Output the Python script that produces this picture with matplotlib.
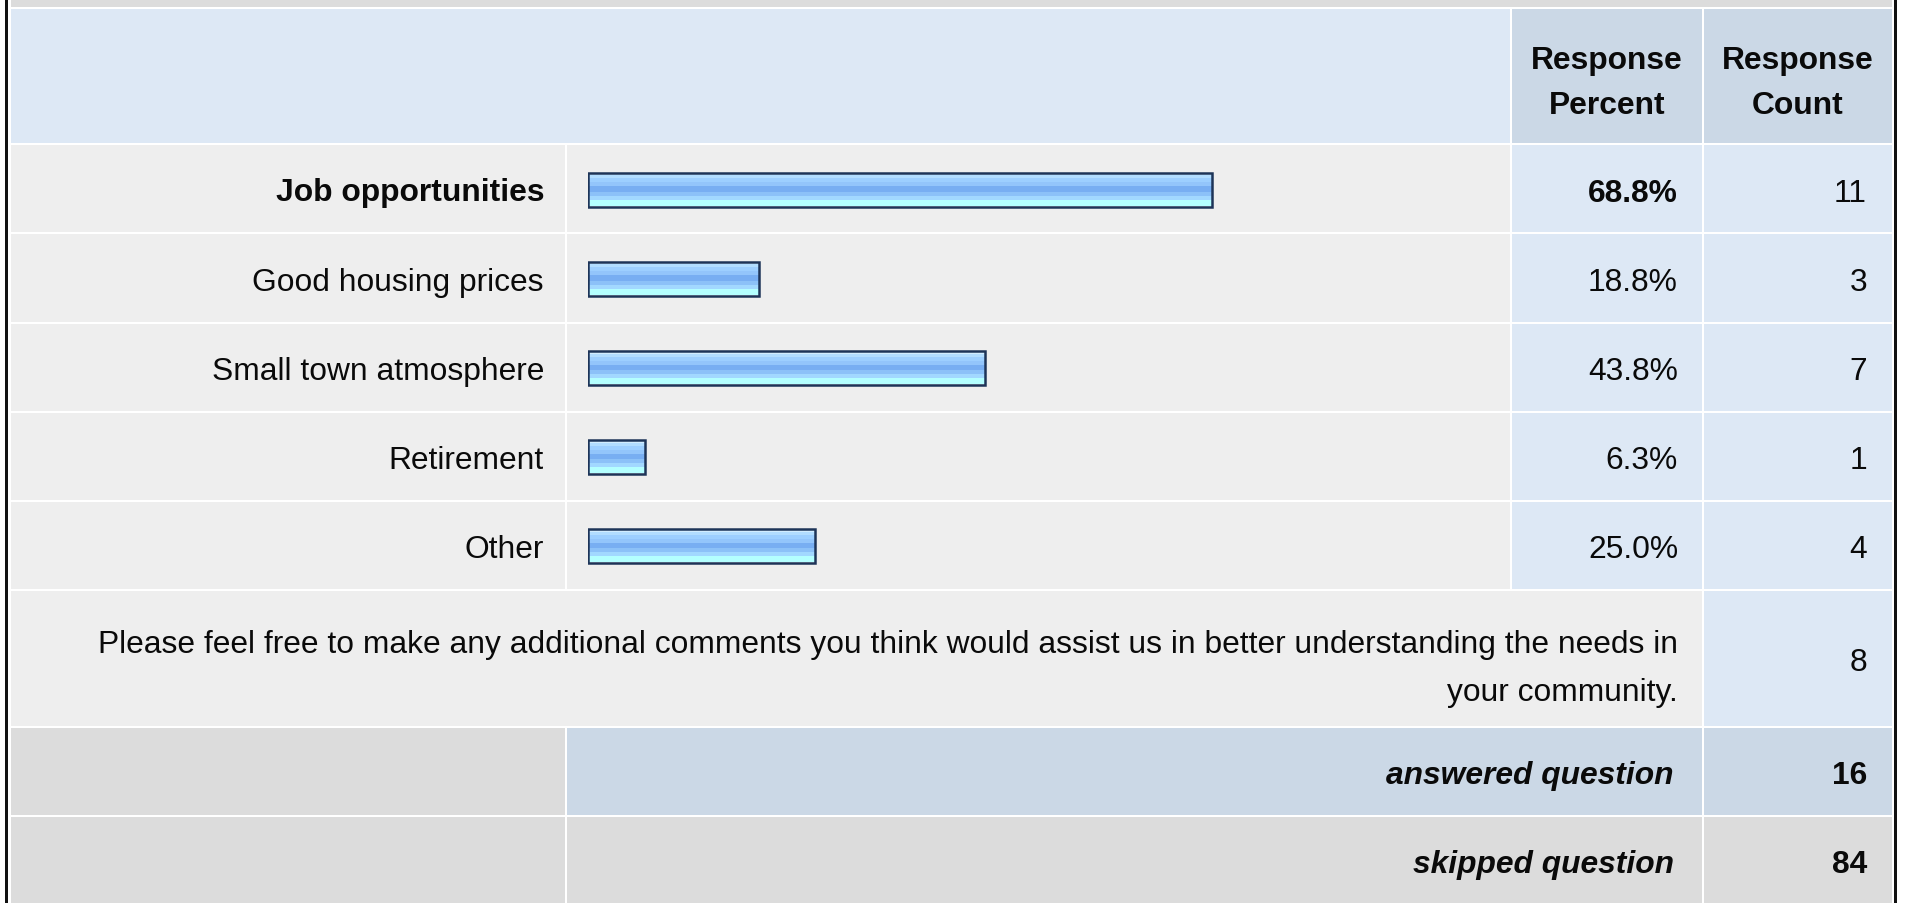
import matplotlib
matplotlib.use("Agg")
import matplotlib.pyplot as plt
from matplotlib.patches import Rectangle

plt.rcParams["font.family"] = ["Liberation Sans", "DejaVu Sans"]

# ---- data ----
categories = ["Job opportunities", "Good housing prices", "Small town atmosphere",
              "Retirement", "Other"]
percents = [68.8, 18.8, 43.8, 6.3, 25.0]
counts = [11, 3, 7, 1, 4]
comment_text = ["Please feel free to make any additional comments you think would "
                "assist us in better understanding the needs in",
                "your community."]
comment_count = 8
answered = 16
skipped = 84
header_pct = ["Response", "Percent"]
header_cnt = ["Response", "Count"]

W, H = 1907, 904
FS = 22.9
TXT = "#0a0a0a"
DY = 4  # text sits a little below the geometric centre of its cell

# colours
STRIP = "#dcdcdc"
HEAD = "#dde8f5"
HEAD_DARK = "#cbd8e6"
CELL = "#eeeeee"
VAL = "#dde8f5"
GRAY = "#dcdcdc"

# column edges (pixels) and row tops
cA, cB, cC, cD = (11, 565), (567, 1510), (1512, 1702), (1704, 1892)
row_tops = [146, 235, 325, 414, 503]
comm_top, ans_top, skip_top = 592, 729, 818

fig = plt.figure(figsize=(W / 100, H / 100), dpi=100)
bg = fig.add_axes([0, 0, 1, 1])
bg.set_xlim(0, W)
bg.set_ylim(H, 0)
bg.axis("off")


def cell(x0, x1, y0, y1, color):
    bg.add_patch(Rectangle((x0, y0), x1 - x0, y1 - y0, facecolor=color,
                           edgecolor="none", zorder=1))


def txt(x, y, s, **kw):
    bg.text(x, y + DY, s, va="center", fontsize=FS, color=TXT, **kw)


# top strip + header
cell(cA[0], cD[1], 0, 8, STRIP)
cell(cA[0], cB[1], 10, 144, HEAD)
cell(*cC, 10, 144, HEAD_DARK)
cell(*cD, 10, 144, HEAD_DARK)
for col, lines in ((cC, header_pct), (cD, header_cnt)):
    xm = (col[0] + col[1]) / 2
    for y, s in zip((57, 102), lines):
        txt(xm, y, s, ha="center", fontweight="bold")

# answer rows
bottoms = row_tops[1:] + [comm_top]
for i, (top, bot) in enumerate(zip(row_tops, bottoms)):
    bot -= 2
    for col, c in ((cA, CELL), (cB, CELL), (cC, VAL), (cD, VAL)):
        cell(*col, top, bot, c)
    ym = (top + bot) / 2
    w = "bold" if i == 0 else "normal"
    txt(544, ym, categories[i], ha="right", fontweight=w)
    txt(1678, ym, f"{percents[i]:.1f}%", ha="right", fontweight=w)
    txt(1867, ym, str(counts[i]), ha="right")

# comments row
cell(cA[0], cC[1], comm_top, ans_top - 2, CELL)
cell(*cD, comm_top, ans_top - 2, VAL)
for y, s in zip((641, 689), comment_text):
    txt(1678, y, s, ha="right")
txt(1867, (comm_top + ans_top - 2) / 2, str(comment_count), ha="right")

# answered / skipped
for top, bot, mid_c, label, n in ((ans_top, skip_top - 2, HEAD_DARK,
                                   "answered question", answered),
                                  (skip_top, H, GRAY, "skipped question", skipped)):
    cell(*cA, top, bot, GRAY)
    cell(cB[0], cC[1], top, bot, mid_c)
    cell(*cD, top, bot, mid_c)
    ym = (top + min(bot, top + 87)) / 2
    txt(1674, ym, label, ha="right", fontweight="bold", fontstyle="italic")
    txt(1867, ym, str(n), ha="right", fontweight="bold")

# outer black borders
bg.add_patch(Rectangle((5, 0), 3, H, facecolor="#111111", edgecolor="none", zorder=3))
bg.add_patch(Rectangle((1894, 0), 3, H, facecolor="#111111", edgecolor="none", zorder=3))

# ---- bars: own axes over the bar column, x in percent ----
bx0, bx1 = 588, 1495
by0, by1 = row_tops[0], comm_top
ax = fig.add_axes([bx0 / W, 1 - by1 / H, (bx1 - bx0) / W, (by1 - by0) / H])
ax.set_xlim(0, 100)
ax.set_ylim(len(categories) - 0.5, -0.5)
ax.axis("off")
ax.patch.set_alpha(0)

ypos = list(range(len(categories)))
bar_h = 36 / 89.2
border = 2 / 89.2
# glossy stripes, top to bottom (relative heights, colour)
stripes = [(5, "#d2edff"), (9, "#b2ddff"), (12, "#9dcfff"), (12, "#93c5fb"),
           (16, "#78aef2"), (12, "#8cc1f8"), (12, "#a2d8ff"), (18, "#b4ffff")]
tot = sum(s for s, _ in stripes)
inner = bar_h - 2 * border
off = -bar_h / 2 + border
for h, c in stripes:
    hh = inner * h / tot
    ax.barh([y + off + hh / 2 for y in ypos], percents, height=hh * 1.02,
            left=0, color=c, edgecolor="none", zorder=2)
    off += hh
ax.barh(ypos, percents, height=bar_h - border, left=0, fill=False,
        edgecolor="#1d3458", linewidth=1.8, zorder=3)

fig.savefig("out.png", dpi=100, facecolor="white")
